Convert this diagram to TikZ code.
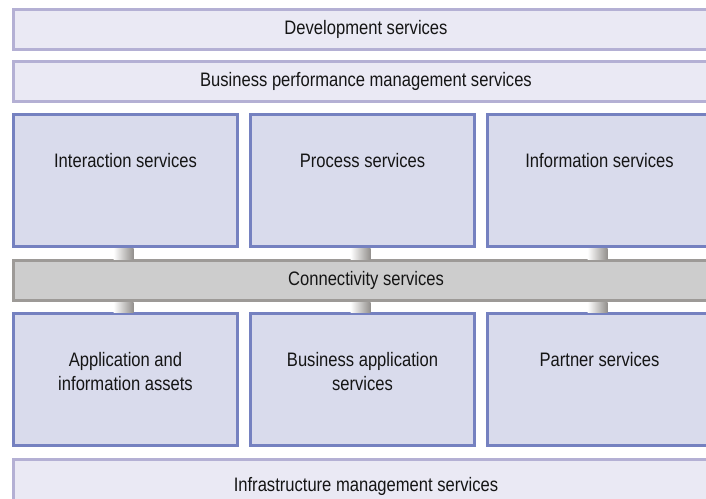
\documentclass[tikz,border=0pt]{standalone}
\usepackage{fontspec}
\setmainfont{Liberation Sans}[FakeStretch=0.85]
\usetikzlibrary{positioning}

\definecolor{barFill}{HTML}{EAE9F4}
\definecolor{barLine}{HTML}{B4B0D4}
\definecolor{boxFill}{HTML}{D9DBEC}
\definecolor{boxLine}{HTML}{7581C0}
\definecolor{connFill}{HTML}{CDCDCD}
\definecolor{connLine}{HTML}{9D9A97}
\definecolor{stubGray}{HTML}{928F8C}
\definecolor{labelInk}{HTML}{151515}

% labels in the service boxes sit near the top edge
\newcommand{\svctext}[1]{\parbox[t][54pt][t]{210pt}{\centering #1}}

\tikzstyle{outerBar} = [rectangle, draw=barLine, fill=barFill, line width=3pt, minimum width=705pt, minimum height=40pt, inner sep=0pt, outer sep=0pt, text=labelInk, font={\fontsize{19.5}{24}\selectfont}]
\tikzstyle{connBar} = [outerBar, draw=connLine, fill=connFill]
\tikzstyle{serviceBox} = [rectangle, draw=boxLine, fill=boxFill, line width=3pt, minimum width=224pt, minimum height=132pt, inner sep=0pt, outer sep=0pt, text=labelInk, font={\fontsize{19.5}{24}\selectfont}]
\tikzstyle{stub} = [left color=white, right color=stubGray]

\begin{document}
\begin{tikzpicture}[x=1pt, y=-1pt]
            \useasboundingbox (0,0) rectangle (706,498);
            \node[outerBar] (dev) at (366,29.5) {Development services};
            \node[outerBar, below=12pt of dev] (bpm) {Business performance management services};
            % upper row
            \node[serviceBox, below=13pt of bpm.south west, anchor=north west] (inter) {\svctext{Interaction services}};
            \node[serviceBox, right=13pt of inter] (proc) {\svctext{Process services}};
            \node[serviceBox, right=13pt of proc] (info) {\svctext{Information services}};
            \node[connBar, below=14pt of inter.south west, anchor=north west] (conn) {Connectivity services};
            % lower row
            \node[serviceBox, below=13pt of conn.south west, anchor=north west] (appl) {\svctext{Application and\\ information assets}};
            \node[serviceBox, right=13pt of appl] (busapp) {\svctext{Business application\\ services}};
            \node[serviceBox, right=13pt of busapp] (partner) {\svctext{Partner services}};
            \node[outerBar, minimum height=54pt, below=14pt of appl.south west, anchor=north west] (infra) {Infrastructure management services};
            % links into the connectivity bar
            \foreach \svc in {inter, proc, info} {
                \shade[stub] ([xshift=-12pt, yshift=-1.5pt]\svc.south) rectangle ([xshift=8pt, yshift=1.5pt]\svc.south |- conn.north);
            }
            \foreach \svc in {appl, busapp, partner} {
                \shade[stub] ([xshift=-12pt, yshift=-1.5pt]\svc.south |- conn.south) rectangle ([xshift=8pt, yshift=1.5pt]\svc.north);
            }
        \end{tikzpicture}
\end{document}
